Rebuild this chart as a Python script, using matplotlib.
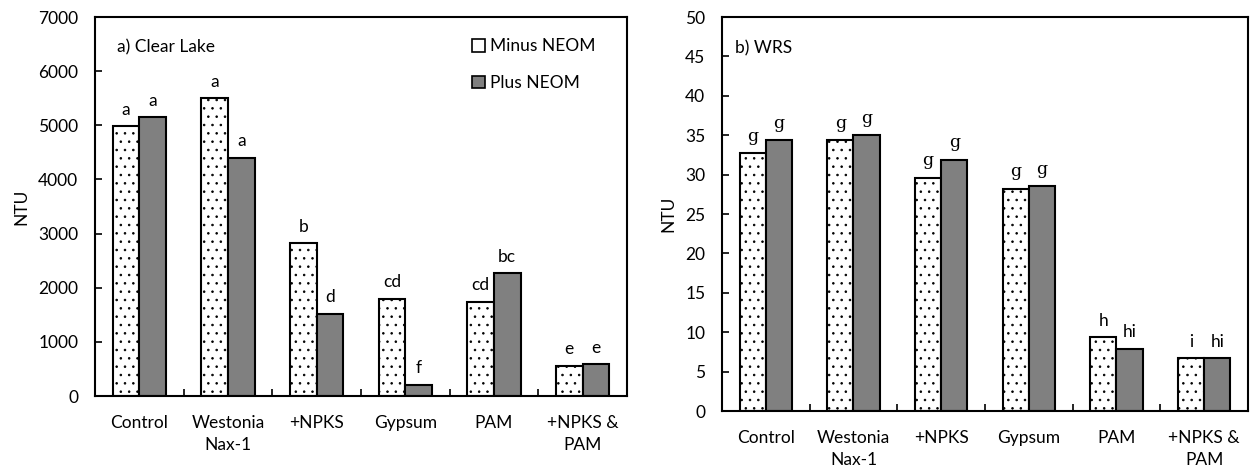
import matplotlib
matplotlib.use("Agg")
import matplotlib.pyplot as plt
from matplotlib.patches import Patch
from matplotlib.ticker import FixedLocator
import numpy as np

plt.rcParams["font.family"] = ["Lato", "DejaVu Sans"]
plt.rcParams["hatch.linewidth"] = 0.6
plt.rcParams["hatch.color"] = "#333333"

CATS = ["Control", "Westonia\nNax-1", "+NPKS", "Gypsum", "PAM", "+NPKS &\nPAM"]

# a) Clear Lake
LAKE_MINUS = [4980, 5500, 2820, 1800, 1740, 560]
LAKE_PLUS = [5150, 4400, 1520, 210, 2270, 590]
LAKE_MINUS_LET = ["a", "a", "b", "cd", "cd", "e"]
LAKE_PLUS_LET = ["a", "a", "d", "f", "bc", "e"]

# b) WRS
WRS_MINUS = [32.7, 34.4, 29.6, 28.2, 9.4, 6.7]
WRS_PLUS = [34.4, 35.0, 31.9, 28.5, 7.9, 6.7]
WRS_MINUS_LET = ["g", "g", "g", "g", "h", "i"]
WRS_PLUS_LET = ["g", "g", "g", "g", "hi", "hi"]

GREY = "#808080"
W = 0.3


def letter_font(s):
    # the "g" letters in panel b are set in a serif face
    return ["DejaVu Serif"] if s == "g" else ["Lato", "DejaVu Sans"]


def panel(ax, minus, plus, let_m, let_p, ymax, step, title, tx):
    x = np.arange(len(CATS))
    b1 = ax.bar(x - W / 2, minus, W, color="white", edgecolor="black",
                linewidth=1.5, hatch="..", zorder=2)
    b2 = ax.bar(x + W / 2, plus, W, color=GREY, edgecolor="black",
                linewidth=1.5, zorder=2)
    for bars, lets in ((b1, let_m), (b2, let_p)):
        for b, s in zip(bars, lets):
            ax.annotate(s, (b.get_x() + b.get_width() / 2, b.get_height()),
                        xytext=(0, 6), textcoords="offset points",
                        ha="center", va="bottom", fontsize=12.5,
                        family=letter_font(s))
    ax.set_xlim(-0.5, len(CATS) - 0.5)
    ax.set_ylim(0, ymax)
    ax.set_yticks(np.arange(0, ymax + step / 2, step))
    ax.xaxis.set_major_locator(FixedLocator(x))
    ax.set_xticklabels(CATS, fontsize=12.5, linespacing=1.4)
    ax.xaxis.set_minor_locator(FixedLocator(x[:-1] + 0.5))
    ax.tick_params(axis="x", which="major", length=0, pad=14)
    ax.tick_params(axis="x", which="minor", direction="in", length=5, width=1.2)
    ax.tick_params(axis="y", direction="in", length=5, width=1.2, pad=12,
                   labelsize=12.5)
    for sp in ax.spines.values():
        sp.set_linewidth(1.5)
    ax.set_ylabel("NTU", fontsize=12.5, labelpad=6)
    ax.text(tx, 0.92, title, transform=ax.transAxes, fontsize=12.5,
            ha="left", va="center")


fig = plt.figure(figsize=(12.53, 4.70), dpi=100)
ax1 = fig.add_axes([0.0758, 0.1574, 0.4246, 0.8064])
ax2 = fig.add_axes([0.5762, 0.1255, 0.4198, 0.8383])

panel(ax1, LAKE_MINUS, LAKE_PLUS, LAKE_MINUS_LET, LAKE_PLUS_LET,
      7000, 1000, "a) Clear Lake", 0.041)
panel(ax2, WRS_MINUS, WRS_PLUS, WRS_MINUS_LET, WRS_PLUS_LET,
      50, 5, "b) WRS", 0.025)

handles = [Patch(facecolor="white", edgecolor="black", linewidth=1.2),
           Patch(facecolor=GREY, edgecolor="black", linewidth=1.2)]
ax1.legend(handles, ["Minus NEOM", "Plus NEOM"], loc="upper right",
           bbox_to_anchor=(0.97, 0.985), frameon=False, fontsize=12.5,
           handlelength=0.75, handleheight=0.75, handletextpad=0.3,
           labelspacing=1.2)

fig.savefig("out.png", dpi=100)
